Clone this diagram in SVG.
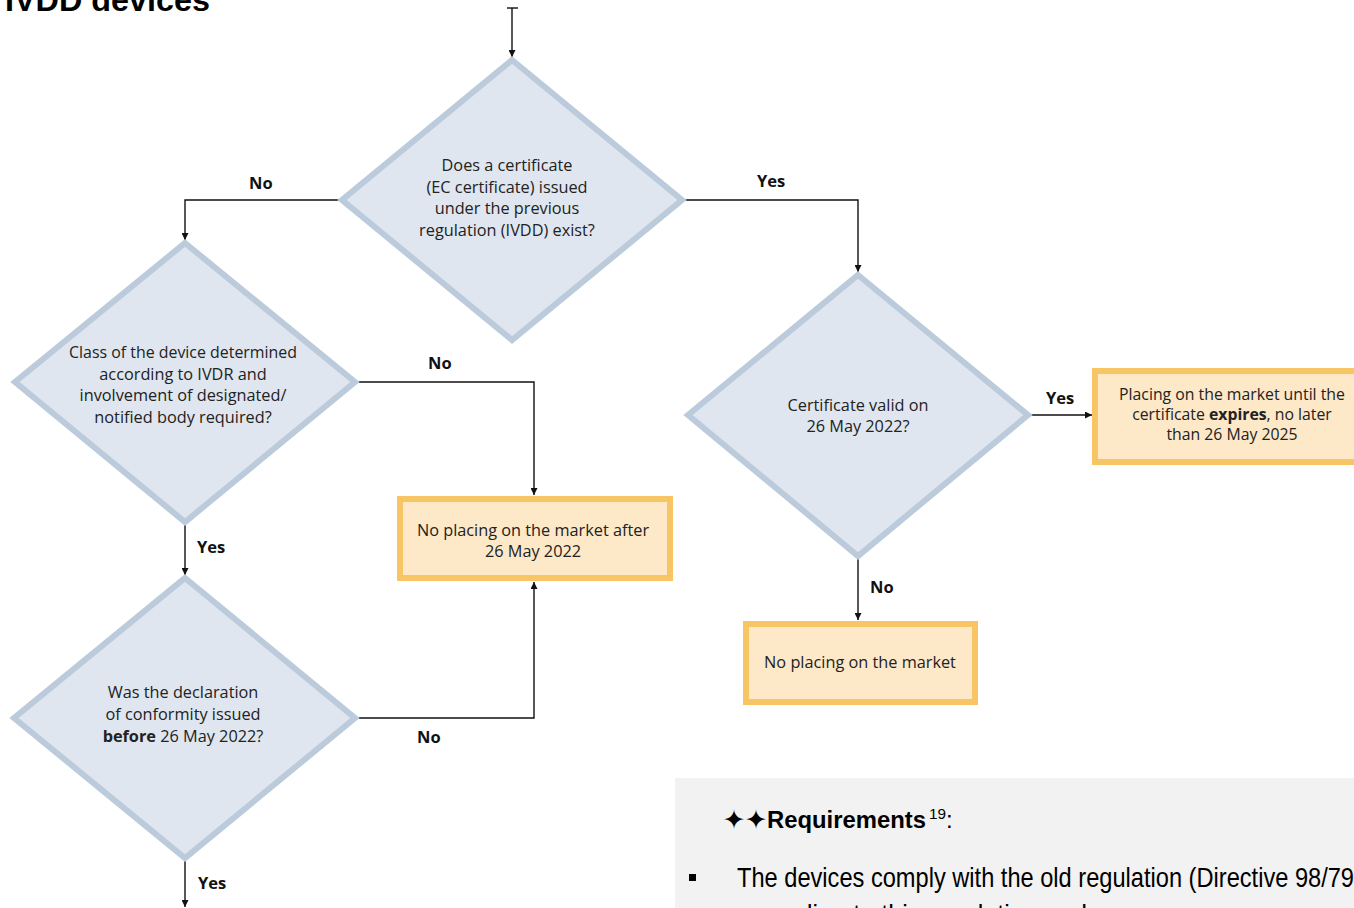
<svg xmlns="http://www.w3.org/2000/svg" width="1354" height="908" viewBox="0 0 1354 908">
<defs>
<style>
.dia{fill:#dfe6ef;stroke:#bccbdb;stroke-width:6;stroke-linejoin:miter}
.box{fill:#fde8c8;stroke:#f8c565;stroke-width:6}
.t{font-family:"Open Sans","Noto Sans",sans-serif;font-size:16.3px;fill:#222;text-anchor:middle}
.lbl{font-family:"Open Sans","Noto Sans",sans-serif;font-size:16.5px;font-weight:bold;fill:#111}
.b{font-weight:bold}
.con{fill:none;stroke:#111;stroke-width:1.4}
.req{font-family:"Liberation Sans Narrow","Liberation Sans",Arial,sans-serif;fill:#000}
</style>
<marker id="ah" viewBox="0 0 10 10" refX="10" refY="5" markerWidth="7" markerHeight="7" markerUnits="userSpaceOnUse" orient="auto">
<path d="M0,0 L10,5 L0,10 z" fill="#111"/>
</marker>
</defs>
<rect width="1354" height="908" fill="#fff"/>
<text x="5" y="11" font-family="Liberation Sans,Arial,sans-serif" font-size="32" font-weight="bold" textLength="205" lengthAdjust="spacingAndGlyphs" fill="#000">IVDD devices</text>

<g id="connectors">
<path class="con" d="M507,8 H518"/>
<path class="con" d="M512,8 V57" marker-end="url(#ah)"/>
<path class="con" d="M342,200 H185 V240" marker-end="url(#ah)"/>
<path class="con" d="M683,200 H858 V272" marker-end="url(#ah)"/>
<path class="con" d="M355,382 H534 V495" marker-end="url(#ah)"/>
<path class="con" d="M185,522 V575" marker-end="url(#ah)"/>
<path class="con" d="M355,718 H534 V582" marker-end="url(#ah)"/>
<path class="con" d="M185,858 V907" marker-end="url(#ah)"/>
<path class="con" d="M858,556 V620" marker-end="url(#ah)"/>
<path class="con" d="M1028,415 H1092" marker-end="url(#ah)"/>
<text class="lbl" x="249" y="189">No</text>
<text class="lbl" x="757" y="187">Yes</text>
<text class="lbl" x="428" y="369">No</text>
<text class="lbl" x="197" y="553">Yes</text>
<text class="lbl" x="417" y="743">No</text>
<text class="lbl" x="198" y="889">Yes</text>
<text class="lbl" x="870" y="593">No</text>
<text class="lbl" x="1046" y="404">Yes</text>
</g>

<g id="d1">
<polygon class="dia" points="512,60 682,200 512,340 342,200"/>
<text class="t" x="507" y="171">Does a certificate</text>
<text class="t" x="507" y="193">(EC certificate) issued</text>
<text class="t" x="507" y="214">under the previous</text>
<text class="t" x="507" y="236">regulation (IVDD) exist?</text>
</g>

<g id="d2">
<polygon class="dia" points="185,243 355,382 185,522 15,382"/>
<text class="t" x="183" y="358" textLength="228" lengthAdjust="spacingAndGlyphs">Class of the device determined</text>
<text class="t" x="183" y="380">according to IVDR and</text>
<text class="t" x="183" y="401">involvement of designated/</text>
<text class="t" x="183" y="423">notified body required?</text>
</g>

<g id="d3">
<polygon class="dia" points="185,578 355,718 185,858 14,718"/>
<text class="t" x="183" y="698">Was the declaration</text>
<text class="t" x="183" y="720">of conformity issued</text>
<text class="t" x="183" y="742"><tspan class="b">before</tspan> 26 May 2022?</text>
</g>

<g id="d4">
<polygon class="dia" points="858,275 1028,415 858,556 688,415"/>
<text class="t" x="858" y="411">Certificate valid on</text>
<text class="t" x="858" y="432">26 May 2022?</text>
</g>

<g id="b1">
<rect class="box" x="400" y="499" width="270" height="79"/>
<text class="t" x="533" y="536">No placing on the market after</text>
<text class="t" x="533" y="557">26 May 2022</text>
</g>

<g id="b2">
<rect class="box" x="746" y="624" width="229" height="78"/>
<text class="t" x="860" y="668">No placing on the market</text>
</g>

<g id="b3">
<rect class="box" x="1095" y="371" width="275" height="91"/>
<text class="t" x="1232" y="400" style="font-size:15.8px">Placing on the market until the</text>
<text class="t" x="1232" y="420" style="font-size:15.8px">certificate <tspan class="b">expires</tspan>, no later</text>
<text class="t" x="1232" y="440" style="font-size:15.8px">than 26 May 2025</text>
</g>

<g id="requirements">
<rect x="675" y="778" width="690" height="140" fill="#f2f2f2"/>
<text x="723" y="829" font-family="DejaVu Sans,sans-serif" font-size="27" fill="#000" textLength="44" lengthAdjust="spacingAndGlyphs">✦✦</text>
<text class="req" x="767" y="828" font-size="24" font-weight="bold" textLength="159" lengthAdjust="spacingAndGlyphs">Requirements</text>
<text class="req" x="929" y="819" font-size="15" textLength="17" lengthAdjust="spacingAndGlyphs">19</text>
<text class="req" x="946" y="828" font-size="24">:</text>
<rect x="689" y="874" width="7" height="7" fill="#000"/>
<text class="req" x="737" y="887" font-size="28" textLength="617" lengthAdjust="spacingAndGlyphs">The devices comply with the old regulation (Directive 98/79</text>
<text class="req" x="737" y="924" font-size="28" textLength="350" lengthAdjust="spacingAndGlyphs">according to this regulation and</text>
</g>
</svg>
